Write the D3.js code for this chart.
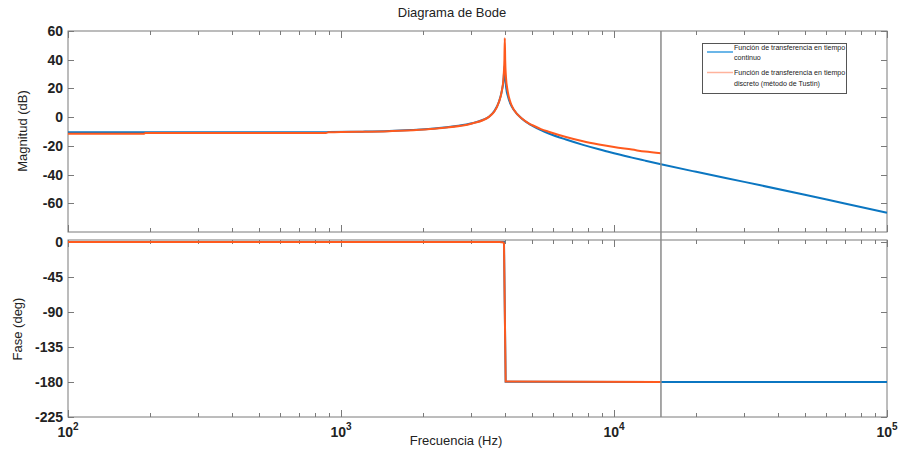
<!DOCTYPE html>
<html><head><meta charset="utf-8">
<script src="https://cdn.jsdelivr.net/npm/d3@7"></script>
<style>body{margin:0;background:#fff}svg{display:block}</style>
</head><body><svg id="c" width="903" height="452"></svg>
<script>
// ---- data (frequency in Hz) ----
const contMag = [[100,-10.6],[500,-10.6],[880,-10.6],[900,-10.3],[1200,-10.1],[1500,-9.7],[1800,-9.0],[2285,-7.6],[2600,-6.3],[3020,-4.3],[3300,-2.0],[3483,0.3],[3650,4.5],[3790,10.7],[3880,18],[3940,26],[3975,36],[3995,28],[4030,20],[4080,15],[4180,9],[4305,4.8],[4600,-1.1],[4887,-4.7],[5010,-5.9],[5400,-9.1],[5800,-11.6],[6670,-15.6],[7700,-19.3],[8810,-22.4],[10000,-25.1],[11640,-28.2],[13000,-30.3],[14860,-32.8],[20000,-38.1],[30000,-45.1],[50000,-54.0],[70000,-60.2],[100000,-66.6]];
const discMag = [[100,-11.6],[190,-11.6],[192,-11.0],[880,-11.0],[900,-10.6],[1500,-9.8],[2285,-7.7],[3020,-4.4],[3483,0.2],[3790,10.6],[3880,18],[3940,28],[3968,40],[3981,55],[3994,40],[4020,28],[4080,18],[4180,10],[4305,4.9],[4600,-1.0],[4887,-4.5],[5010,-5.5],[5400,-8.3],[5800,-10.3],[6670,-13.8],[7700,-16.8],[8810,-19.0],[10000,-20.8],[11640,-22.6],[13000,-24.0],[14860,-25.2]];
const contPhase = [[100,0],[3954,0],[4010,-179.6],[14860,-180],[100000,-180]];
const discPhase = [[100,0],[3800,0],[3940,-0.5],[3954,-2],[4010,-179.2],[14860,-180.1]];
const nyquistFreq = 14860;
const magTicks = [60,40,20,0,-20,-40,-60];
const phaseTicks = [0,-45,-90,-135,-180,-225];
const freqTicks = [100,1000,10000,100000];
const legendLabels = [["Función de transferencia en tiempo","continuo"],["Función de transferencia en tiempo","discreto (método de Tustin)"]];

// ---- drawing ----
const svg = d3.select("#c");
const L = 68, R = 887;
const x = d3.scaleLog().domain([100,1e5]).range([L,R]);
const yMag = d3.scaleLinear().domain([-80,60]).range([232,31]);
const yPh = d3.scaleLinear().domain([-225,2.6]).range([417,240]);
const blue = "#0b76c1", orange = "#ff5a1e", axisCol = "#7a7a7a";
const font = "'Liberation Sans', Arial, sans-serif";

svg.append("rect").attr("width",903).attr("height",452).attr("fill","#fff");

const minor = [];
[100,1000,10000].forEach(d=>{for(let k=2;k<=9;k++) minor.push(d*k);});

function panel(y, yticks, showXLabels){
  const [yb, yt] = y.range();
  const g = svg.append("g");
  g.append("rect").attr("x",L).attr("y",yt).attr("width",R-L).attr("height",yb-yt)
    .attr("fill","#fff").attr("stroke",axisCol).attr("stroke-width",1);
  yticks.forEach(v=>{
    const yy = Math.round(y(v))+0.5;
    g.append("line").attr("x1",L).attr("x2",L+6).attr("y1",yy).attr("y2",yy).attr("stroke",axisCol);
    g.append("line").attr("x1",R-6).attr("x2",R).attr("y1",yy).attr("y2",yy).attr("stroke",axisCol);
    g.append("text").attr("x",L-5).attr("y",y(v)).attr("dy","0.36em").attr("text-anchor","end")
      .attr("font-family",font).attr("font-size",14).attr("font-weight","bold").attr("fill","#222")
      .text(v);
  });
  freqTicks.forEach(f=>{
    const xx = Math.round(x(f))+0.5;
    g.append("line").attr("x1",xx).attr("x2",xx).attr("y1",yb).attr("y2",yb-7).attr("stroke",axisCol);
    g.append("line").attr("x1",xx).attr("x2",xx).attr("y1",yt).attr("y2",yt+7).attr("stroke",axisCol);
  });
  minor.forEach(f=>{
    const xx = Math.round(x(f))+0.5;
    g.append("line").attr("x1",xx).attr("x2",xx).attr("y1",yb).attr("y2",yb-4).attr("stroke",axisCol);
    g.append("line").attr("x1",xx).attr("x2",xx).attr("y1",yt).attr("y2",yt+4).attr("stroke",axisCol);
  });
  if(showXLabels){
    freqTicks.forEach(f=>{
      const t = g.append("text").attr("x",x(f)).attr("y",437).attr("text-anchor","middle")
        .attr("font-family",font).attr("font-size",14).attr("font-weight","bold").attr("fill","#222");
      t.append("tspan").text("10");
      t.append("tspan").attr("dy",-7).attr("font-size",10).text(Math.round(Math.log10(f)));
    });
  }
  return g;
}

const gMag = panel(yMag, magTicks, false);
const gPh = panel(yPh, phaseTicks, true);

const lineMag = d3.line().x(d=>x(d[0])).y(d=>yMag(d[1])).curve(d3.curveMonotoneX);
const linePh = d3.line().x(d=>x(d[0])).y(d=>yPh(d[1]));

gMag.append("path").attr("d",lineMag(contMag)).attr("fill","none").attr("stroke",blue).attr("stroke-width",2);
gMag.append("path").attr("d",lineMag(discMag)).attr("fill","none").attr("stroke",orange).attr("stroke-width",2);
gPh.append("path").attr("d",linePh(contPhase)).attr("fill","none").attr("stroke",blue).attr("stroke-width",2);
gPh.append("path").attr("d",linePh(discPhase)).attr("fill","none").attr("stroke",orange).attr("stroke-width",2);

svg.append("line").attr("x1",x(nyquistFreq)).attr("x2",x(nyquistFreq)).attr("y1",31).attr("y2",417)
  .attr("stroke","#8a8a8a").attr("stroke-width",1.5);

svg.append("text").attr("x",452).attr("y",17).attr("text-anchor","middle").attr("font-family",font)
  .attr("font-size",13).attr("fill","#222").text("Diagrama de Bode");
svg.append("text").attr("transform","translate(27,131) rotate(-90)").attr("text-anchor","middle")
  .attr("font-family",font).attr("font-size",13).attr("fill","#222").text("Magnitud (dB)");
svg.append("text").attr("transform","translate(22,329) rotate(-90)").attr("text-anchor","middle")
  .attr("font-family",font).attr("font-size",13).attr("fill","#222").text("Fase (deg)");
svg.append("text").attr("x",456).attr("y",445).attr("text-anchor","middle")
  .attr("font-family",font).attr("font-size",13).attr("fill","#222").text("Frecuencia (Hz)");

const lg = svg.append("g");
lg.append("rect").attr("x",702.5).attr("y",43.5).attr("width",144).attr("height",50)
  .attr("fill","#fff").attr("stroke","#555").attr("stroke-width",1);
const legendColors = ["#3a9ee0","#ffb39c"];
const legendLineY = [52,72.5];
const legendTextY = [[49.5,60],[75,86]];
legendLabels.forEach((lab,i)=>{
  lg.append("line").attr("x1",707).attr("x2",733).attr("y1",legendLineY[i]).attr("y2",legendLineY[i])
    .attr("stroke",legendColors[i]).attr("stroke-width",1.5);
  lab.forEach((s,j)=>{
    lg.append("text").attr("x",734).attr("y",legendTextY[i][j]).attr("font-family",font)
      .attr("font-size",7.1).attr("fill","#222").text(s);
  });
});
</script>
</body></html>
